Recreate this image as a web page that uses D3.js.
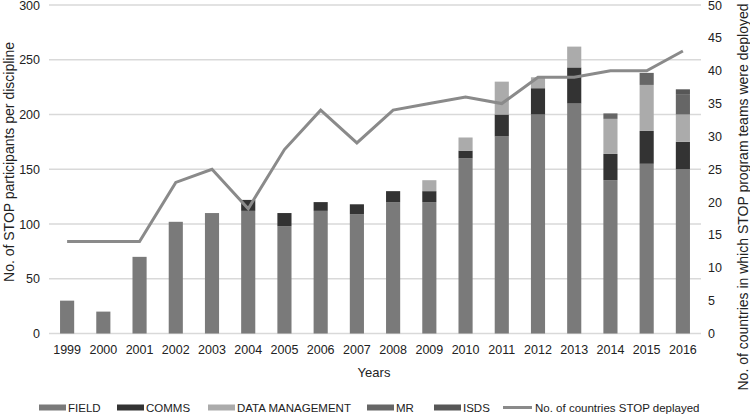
<!DOCTYPE html>
<html><head><meta charset="utf-8">
<script src="https://cdn.jsdelivr.net/npm/d3@7"></script>
<style>body{margin:0;background:#fff}svg{display:block;font-family:"Liberation Sans",Arial,sans-serif}</style>
</head><body><svg id="c" width="750" height="415"></svg>
<script>
const years = ["1999","2000","2001","2002","2003","2004","2005","2006","2007","2008","2009","2010","2011","2012","2013","2014","2015","2016"];
const field = [30,20,70,102,110,112,98,112,109,120,120,160,180,200,210,140,155,150];
const comms = [0,0,0,0,0,10,12,8,9,10,10,7,20,24,33,24,30,25];
const dataMgmt = [0,0,0,0,0,0,0,0,0,0,10,12,30,10,19,32,42,25];
const mr = [0,0,0,0,0,0,0,0,0,0,0,0,0,0,0,5,11,18];
const isds = [0,0,0,0,0,0,0,0,0,0,0,0,0,0,0,0,0,5];
const countries = [14,14,14,23,25,19,28,34,29,34,35,36,35,39,39,40,40,43];
const leftTicks = [0,50,100,150,200,250,300];
const rightTicks = [0,5,10,15,20,25,30,35,40,45,50];
const seriesNames = ["FIELD","COMMS","DATA MANAGEMENT","MR","ISDS"];
const seriesColors = ["#7a7a7a","#333333","#ababab","#666666","#575757"];
const lineName = "No. of countries STOP deplayed";
const lineColor = "#8a8a8a";

const svg = d3.select("#c");
const m = {l:49, r:701, t:5, b:333.5};
const x = d3.scaleBand().domain(years).range([m.l, m.r]).paddingInner(0.61).paddingOuter(0.305);
const yL = d3.scaleLinear().domain([0,300]).range([m.b, m.t]);
const yR = d3.scaleLinear().domain([0,50]).range([m.b, m.t]);

// gridlines
svg.append("g").selectAll("line").data(leftTicks).join("line")
  .attr("x1", m.l).attr("x2", m.r)
  .attr("y1", d=>yL(d)).attr("y2", d=>yL(d))
  .attr("stroke", "#d9d9d9").attr("stroke-width", 1.3);

// stacked bars
const rows = years.map((y,i)=>({year:y, FIELD:field[i], COMMS:comms[i], "DATA MANAGEMENT":dataMgmt[i], MR:mr[i], ISDS:isds[i]}));
const stack = d3.stack().keys(seriesNames)(rows);
svg.append("g").selectAll("g").data(stack).join("g")
  .attr("fill", (d,i)=>seriesColors[i])
  .selectAll("rect").data(d=>d).join("rect")
  .attr("x", d=>x(d.data.year)).attr("width", x.bandwidth())
  .attr("y", d=>yL(d[1])).attr("height", d=>Math.max(0, yL(d[0]) - yL(d[1])));

// line
const line = d3.line().x((d,i)=>x(years[i]) + x.bandwidth()/2).y(d=>yR(d));
svg.append("path").datum(countries).attr("d", line)
  .attr("fill","none").attr("stroke", lineColor).attr("stroke-width", 3).attr("stroke-linejoin","miter");

// axes
const txt = "#222";
const axL = svg.append("g").attr("transform", `translate(${m.l},0)`)
  .call(d3.axisLeft(yL).tickValues(leftTicks).tickSize(0).tickPadding(9));
axL.select(".domain").remove();
axL.selectAll("text").attr("font-size", 12.5).attr("fill", txt).style("font-family","Liberation Sans, Arial, sans-serif");

const axR = svg.append("g").attr("transform", `translate(${m.r},0)`)
  .call(d3.axisRight(yR).tickValues(rightTicks).tickSize(0).tickPadding(7));
axR.select(".domain").remove();
axR.selectAll("text").attr("font-size", 12.5).attr("fill", txt).style("font-family","Liberation Sans, Arial, sans-serif");

const axB = svg.append("g").attr("transform", `translate(0,${m.b})`)
  .call(d3.axisBottom(x).tickSize(0).tickPadding(12));
axB.select(".domain").remove();
axB.selectAll("text").attr("font-size", 12.5).attr("fill", txt).style("font-family","Liberation Sans, Arial, sans-serif");

// titles
svg.append("text").attr("transform","translate(14,162) rotate(-90)").attr("text-anchor","middle")
  .attr("font-size",14).attr("fill",txt).text("No. of STOP participants per discipline");
svg.append("text").attr("transform","translate(748,197) rotate(-90)").attr("text-anchor","middle")
  .attr("font-size",14).attr("fill",txt).text("No. of countries in which STOP program teams were deployed");
svg.append("text").attr("x",374).attr("y",377).attr("text-anchor","middle")
  .attr("font-size",13).attr("fill",txt).text("Years");

// legend
const legX = [39,117,208,367,434];
const lg = svg.append("g");
seriesNames.forEach((n,i)=>{
  lg.append("rect").attr("x",legX[i]).attr("y",404.5).attr("width",27).attr("height",6).attr("fill",seriesColors[i]);
  lg.append("text").attr("x",legX[i]+29).attr("y",412).attr("font-size",11.5).attr("fill",txt).text(n);
});
lg.append("line").attr("x1",503).attr("x2",532).attr("y1",407.5).attr("y2",407.5).attr("stroke",lineColor).attr("stroke-width",3);
lg.append("text").attr("x",535).attr("y",412).attr("font-size",11.5).attr("fill",txt).text(lineName);
</script></body></html>
